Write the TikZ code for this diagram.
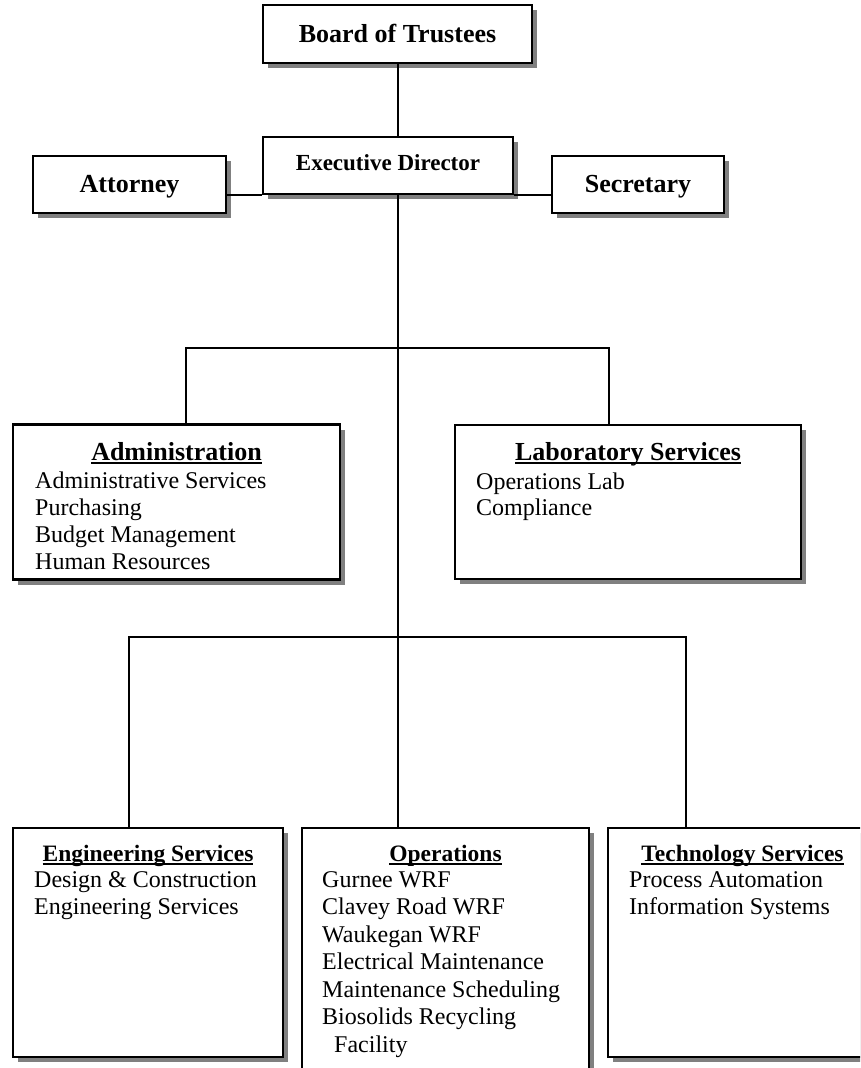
\documentclass[tikz,border=0pt]{standalone}
\usepackage{fontspec}
\setmainfont{Liberation Serif}
\definecolor{shadowgray}{RGB}{128,128,128}
\newlength{\ulwd}
\newcommand{\ulhead}[1]{\settowidth{\ulwd}{#1}\rlap{#1}\rule[-4pt]{\ulwd}{1.8pt}}
\tikzset{
  orgbox/.style={draw, line width=2.2pt, fill=white, inner sep=0pt,
    preaction={fill=shadowgray, transform canvas={xshift=5pt,yshift=-5pt}}},
  titletext/.style={font=\fontsize{26}{30}\selectfont\bfseries, inner sep=0pt},
  subhead/.style={font=\fontsize{23.5}{28}\selectfont\bfseries, inner sep=0pt},
  listtext/.style={font=\fontsize{24}{26.7}\selectfont, align=left, inner sep=0pt},
  tie/.style={line width=2pt}
}

\begin{document}
\begin{tikzpicture}[x=1pt,y=1pt,yscale=-1]
\useasboundingbox (0,0) rectangle (860,1068);
\clip (0,0) rectangle (860,1068);

%Shape: Box
\node[orgbox, minimum width=269, minimum height=58] (board) at (397.5,34) {};
\node[orgbox, minimum width=250, minimum height=57] (exec) at (388,165.5) {};
\node[orgbox, minimum width=193, minimum height=57] (atty) at (129.5,184.5) {};
\node[orgbox, minimum width=172, minimum height=57] (sec) at (638,184.5) {};
%Shape: Box
\node[orgbox, minimum width=327, minimum height=155] (admin) at (176.5,502) {};
\node[orgbox, minimum width=346, minimum height=154] (lab) at (628,502) {};
%Shape: Box
\node[orgbox, minimum width=270, minimum height=229] (eng) at (148,942.5) {};
\node[orgbox, minimum width=287, minimum height=272] (ops) at (445.5,964) {};
\node[orgbox, minimum width=269, minimum height=229] (tech) at (742.5,942.5) {};

%Straight Lines
\coordinate (opstap) at (397.5,637);
\draw[tie] (board.south) -- (board.south |- exec.north);
\draw[tie] (board.south |- exec.south) -- (opstap) -- (opstap |- ops.north);
\draw[tie] (exec.south west) -- (exec.south west -| atty.east);
\draw[tie] (exec.south east) -- (exec.south east -| sec.west);
\coordinate (admintap) at (186,348);
\coordinate (labtap) at (609,348);
\draw[tie] (admintap |- admin.north) -- (admintap) -- (labtap) -- (labtap |- lab.north);
\coordinate (engtap) at (129,637);
\coordinate (techtap) at (686,637);
\draw[tie] (engtap |- eng.north) -- (engtap) -- (techtap) -- (techtap |- tech.north);

% Text Node
\node[titletext, anchor=base] (boardlbl) at (397.5,42) {Board of Trustees};
% Text Node
\node[titletext, font=\fontsize{23}{28}\selectfont\bfseries, anchor=base] (execlbl) at (388,170) {Executive Director};
% Text Node
\node[titletext, anchor=base] (attylbl) at (129.5,192) {Attorney};
% Text Node
\node[titletext, anchor=base] (seclbl) at (638,192) {Secretary};
% Text Node
\node[titletext, anchor=base] (adminhead) at (176.5,460) {\ulhead{Administration}};
\node[listtext, anchor=base west] (adminlist) at (35,569) {Administrative Services\\Purchasing\\Budget Management\\Human Resources};
% Text Node
\node[titletext, anchor=base] (labhead) at (628,460) {\ulhead{Laboratory Services}};
\node[listtext, anchor=base west] (lablist) at (476,515.7) {Operations Lab\\Compliance};
% Text Node
\node[subhead, anchor=base] (enghead) at (148,861) {\ulhead{Engineering Services}};
\node[listtext, font=\fontsize{24}{27.5}\selectfont, anchor=base west] (englist) at (34,914.5) {Design \& Construction\\Engineering Services};
% Text Node
\node[subhead, anchor=base] (opshead) at (445.5,861) {\ulhead{Operations}};
\node[listtext, font=\fontsize{24}{27.5}\selectfont, anchor=base west] (opslist) at (322,1052) {Gurnee WRF\\Clavey Road WRF\\Waukegan WRF\\Electrical Maintenance\\Maintenance Scheduling\\Biosolids Recycling\\\hspace*{12pt}Facility};
% Text Node
\node[subhead, anchor=base] (techhead) at (742.5,861) {\ulhead{Technology Services}};
\node[listtext, font=\fontsize{24}{27.5}\selectfont, anchor=base west] (techlist) at (629,914.5) {Process Automation\\Information Systems};

\end{tikzpicture}
\end{document}
